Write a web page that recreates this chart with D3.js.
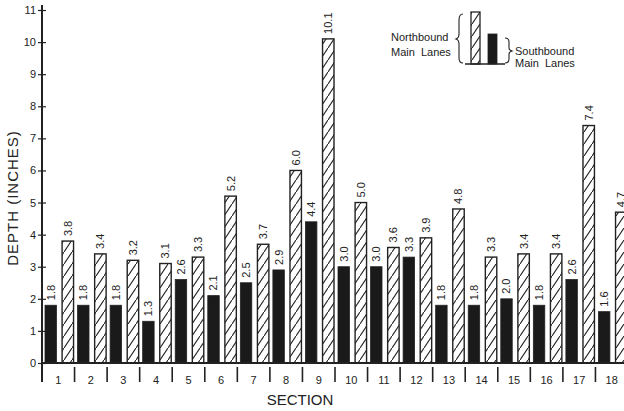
<!DOCTYPE html>
<html><head><meta charset="utf-8">
<script src="https://cdn.jsdelivr.net/npm/d3@7"></script>
<style>
html,body{margin:0;padding:0;background:#fff;}
text{font-family:"Liberation Sans",Arial,sans-serif;fill:#222;}
</style></head>
<body>
<svg id="chart" width="624" height="411"></svg>
<script>
const sections = ["1","2","3","4","5","6","7","8","9","10","11","12","13","14","15","16","17","18"];
const southbound = [1.8,1.8,1.8,1.3,2.6,2.1,2.5,2.9,4.4,3.0,3.0,3.3,1.8,1.8,2.0,1.8,2.6,1.6];
const northbound = [3.8,3.4,3.2,3.1,3.3,5.2,3.7,6.0,10.1,5.0,3.6,3.9,4.8,3.3,3.4,3.4,7.4,4.7];
const yTicks = [0,1,2,3,4,5,6,7,8,9,10,11];
const seriesKeys = ["S","N"];

const svg = d3.select("#chart");
const ink = "#222";

const defs = svg.append("defs");
const pat = defs.append("pattern").attr("id","hatch").attr("patternUnits","userSpaceOnUse")
  .attr("width",8).attr("height",12);
pat.append("rect").attr("width",8).attr("height",12).attr("fill","#fff");
pat.append("path").attr("d","M-1,13.5 L9,-1.5").attr("stroke",ink).attr("stroke-width",1.1);

const x = d3.scaleBand().domain(sections).range([42, 628]).paddingInner(0).paddingOuter(0);
const xSub = d3.scaleBand().domain(seriesKeys).range([3, x.bandwidth()-1]).paddingInner(0.33).paddingOuter(0);
const y = d3.scaleLinear().domain([0, 11]).range([363, 10]);

// bars
const rows = sections.map((s,i)=>({s, S:southbound[i], N:northbound[i]}));
const g = svg.append("g");
rows.forEach(r=>{
  seriesKeys.forEach(k=>{
    const v = r[k];
    const bx = x(r.s) + xSub(k);
    const bw = xSub.bandwidth();
    g.append("rect")
      .attr("x", bx).attr("y", y(v))
      .attr("width", bw).attr("height", y(0)-y(v))
      .attr("fill", k==="S" ? "#1a1a1a" : "url(#hatch)")
      .attr("stroke", ink).attr("stroke-width", k==="S" ? 0.8 : 1.4);
    const cx = bx + bw/2;
    const ty = y(v) - 5;
    g.append("text")
      .attr("transform", `translate(${cx},${ty}) rotate(-90)`)
      .attr("dy","0.36em")
      .attr("text-anchor","start")
      .style("font-size","11px")
      .text(v.toFixed(1));
  });
});

// y axis
const yAxis = d3.axisLeft(y).tickValues(yTicks).tickSize(0).tickPadding(6).tickFormat(d3.format("d"));
const ya = svg.append("g").attr("transform","translate(42,0)").call(yAxis);
ya.select(".domain").remove();
ya.selectAll("text").style("font-size","11px").style("font-family","'Liberation Sans',Arial,sans-serif").attr("fill",ink);
ya.selectAll(".tick").append("line").attr("x1",-4).attr("x2",4).attr("stroke",ink).attr("stroke-width",1.2);
svg.append("line").attr("x1",42).attr("x2",42).attr("y1",5).attr("y2",382).attr("stroke",ink).attr("stroke-width",2);

// x axis baseline
svg.append("line").attr("x1",42).attr("x2",624).attr("y1",y(0)).attr("y2",y(0)).attr("stroke",ink).attr("stroke-width",2);

// section separators and labels
const xAxis = d3.axisBottom(x).tickSize(0).tickPadding(13);
const xa = svg.append("g").attr("transform",`translate(0,${y(0)})`).call(xAxis);
xa.select(".domain").remove();
xa.selectAll("text").style("font-size","11px").style("font-family","'Liberation Sans',Arial,sans-serif").attr("fill",ink);
sections.forEach(s=>{
  svg.append("line").attr("x1",x(s)).attr("x2",x(s)).attr("y1",367).attr("y2",382).attr("stroke",ink).attr("stroke-width",1.6);
});

// axis titles
svg.append("text").attr("x",300).attr("y",405).attr("text-anchor","middle").style("font-size","15px").text("SECTION");
svg.append("text").attr("transform","translate(13,198) rotate(-90)").attr("dy","0.36em")
  .attr("text-anchor","middle").style("font-size","15px").style("letter-spacing","1px").text("DEPTH (INCHES)");

// legend
const lg = svg.append("g");
lg.append("rect").attr("x",471).attr("y",12).attr("width",9).attr("height",52).attr("fill","url(#hatch)").attr("stroke",ink).attr("stroke-width",1.3);
lg.append("rect").attr("x",488).attr("y",34).attr("width",9).attr("height",30).attr("fill","#1a1a1a").attr("stroke",ink).attr("stroke-width",0.8);
lg.append("line").attr("x1",465).attr("x2",505).attr("y1",64).attr("y2",64).attr("stroke",ink).attr("stroke-width",1.5);
// braces
lg.append("path").attr("d","M463,14 Q459,14 459,20 L459,34 Q459,38 456,39 Q459,40 459,44 L459,58 Q459,63 463,63")
  .attr("fill","none").attr("stroke",ink).attr("stroke-width",1.1);
lg.append("path").attr("d","M505,38 Q509,38 509,42 L509,48 Q509,50 512,51 Q509,52 509,54 L509,59 Q509,63 505,63")
  .attr("fill","none").attr("stroke",ink).attr("stroke-width",1.1);
lg.append("text").attr("x",391).attr("y",41).style("font-size","11px").text("Northbound");
lg.append("text").attr("x",391).attr("y",56).style("font-size","11px").style("word-spacing","3px").text("Main Lanes");
lg.append("text").attr("x",515).attr("y",55).style("font-size","11px").text("Southbound");
lg.append("text").attr("x",515).attr("y",67).style("font-size","11px").style("word-spacing","3px").text("Main Lanes");
</script>
</body></html>
